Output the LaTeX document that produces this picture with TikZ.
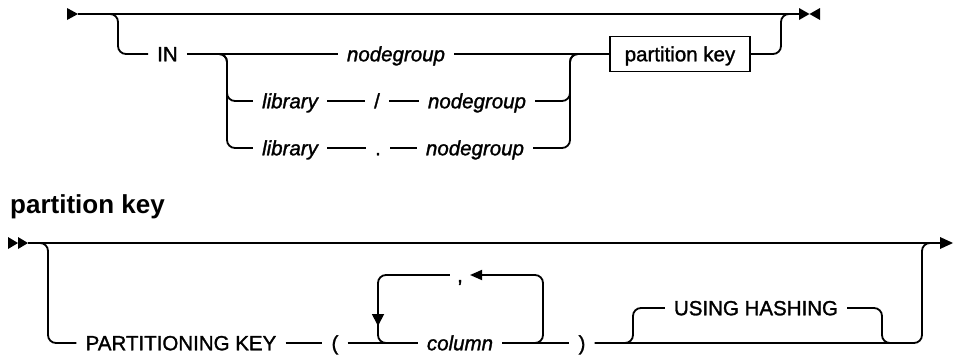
\documentclass[tikz,border=0pt]{standalone}
\usepackage{fontspec}
\setmainfont{Liberation Sans}
\setsansfont{Liberation Sans}
\newfontfamily\bodyfont{Liberation Sans}[FakeBold=1.4]
\usetikzlibrary{arrows.meta}
\begin{document}
\begin{tikzpicture}[x=1pt,y=-1pt,
  ln/.style={line width=1.8pt, rounded corners=8pt},
  lbl/.style={font=\bodyfont\fontsize{20.5}{23}\selectfont, text height=14.5pt, text depth=0pt, inner ysep=0pt, inner xsep=9pt},
  kw/.style={lbl},
  var/.style={lbl, font=\bodyfont\fontsize{20.5}{23}\selectfont\itshape},
  refbox/.style={lbl, draw, line width=1.8pt, minimum height=35pt, inner xsep=8pt, inner ysep=0pt},
  head/.style={font=\fontsize{26}{29}\selectfont\bfseries, inner sep=0pt, anchor=base west},
  tipfill/.style={fill=black, draw=none},
  darrow/.style={-{Triangle[length=12pt,width=12pt]}}]
\useasboundingbox (0,0) rectangle (954,356);

% ---------- top diagram ----------
\node[kw]  (IN)   at (167.5,54) {IN};
\node[var] (ng1)  at (396,54)  {nodegroup};
\node[var] (lib2) at (290,101) {library};
\node[kw]  (sl)   at (377,101) {/};
\node[var] (ng2)  at (477,101) {nodegroup};
\node[var] (lib3) at (290,148) {library};
\node[kw]  (dot)  at (378,148) {.};
\node[var] (ng3)  at (475,148) {nodegroup};
\node[refbox, minimum width=140pt] (pk) at (680,54) {partition key};

\coordinate (tstart) at (78,14);
\coordinate (tend)   at (800,14);
\coordinate (tb)     at (104,14);
\coordinate (tv)     at (118,54);
\coordinate (sp)     at (210,54);
\coordinate (sv2)    at (227,101);
\coordinate (sv3)    at (227,148);
\coordinate (jn)     at (570,54);
\coordinate (jo)     at (584,54);
\coordinate (ej)     at (781,14);
\coordinate (ej2)    at (795,14);

\draw[ln] (tstart) -- (tend);
\draw[ln] (tb) -| (tv) -- (IN.west);
\draw[ln] (IN.east) -- (ng1.west);
\draw[ln] (ng1.east) -- (pk.west);
\draw[ln] (sp) -| (sv2) -- (lib2.west);
\draw[ln] (sp) -| (sv3) -- (lib3.west);
\draw[ln] (lib2.east) -- (sl.west);
\draw[ln] (sl.east) -- (ng2.west);
\draw[ln] (lib3.east) -- (dot.west);
\draw[ln] (dot.east) -- (ng3.west);
\draw[ln] (ng2.east) -| (jn) -- (jo);
\draw[ln] (ng3.east) -| (jn) -- (jo);
\draw[ln] (pk.east) -| (ej) -- (ej2);

% start / end markers
\fill[tipfill] (67,8) -- (78,14) -- (67,20) -- cycle;
\fill[tipfill] (799,8) -- (809.5,14) -- (799,20) -- cycle;
\fill[tipfill] (820,8) -- (809.5,14) -- (820,20) -- cycle;

% ---------- bottom diagram ----------
\node[head] (title) at (10,213) {partition key};

\node[kw]  (PK)    at (181,343) {PARTITIONING KEY};
\node[kw]  (lp)    at (335,343) {(};
\node[var] (col)   at (460,343) {column};
\node[kw]  (rp)    at (582,343) {)};
\node[kw, inner xsep=7pt] (comma) at (460,275) {,};
\node[kw]  (using) at (756,308) {USING HASHING};

\coordinate (bstart) at (28,243);
\coordinate (bend)   at (940,243);
\coordinate (bb)     at (34,243);
\coordinate (bv)     at (48,343);
\coordinate (lr)     at (528,343);
\coordinate (lrt)    at (543,275);
\coordinate (ad)     at (378,326);
\coordinate (ae)     at (378,316);
\coordinate (lb)     at (398,343);
\coordinate (ua)     at (620,343);
\coordinate (uv)     at (633,308);
\coordinate (ub)     at (882,343);
\coordinate (ub2)    at (896,343);
\coordinate (ev)     at (922,243);
\coordinate (ev2)    at (934,243);

\draw[ln] (bstart) -- (bend);
\draw[ln] (bb) -| (bv) -- (PK.west);
\draw[ln] (PK.east) -- (lp.west);
\draw[ln] (lp.east) -- (col.west);
\draw[ln] (col.east) -- (rp.west);
% repetition loop
\draw[ln, -{Triangle[length=12pt,width=10pt]}] (lr) -| (lrt) -- (comma.east);
\draw[ln, darrow] (comma.west) -| (ad);
\draw[ln] (ae) |- (lb);
% optional USING HASHING
\draw[ln] (ua) -| (uv) -- (using.west);
\draw[ln] (using.east) -| (ub) -- (ub2);
\draw[ln] (rp.east) -| (ev) -- (ev2);

% start / end markers
\fill[tipfill] (8,237) -- (18,243) -- (8,249) -- cycle;
\fill[tipfill] (18,237) -- (28,243) -- (18,249) -- cycle;
\fill[tipfill] (940,237) -- (953,243) -- (940,249) -- cycle;
\end{tikzpicture}
\end{document}
